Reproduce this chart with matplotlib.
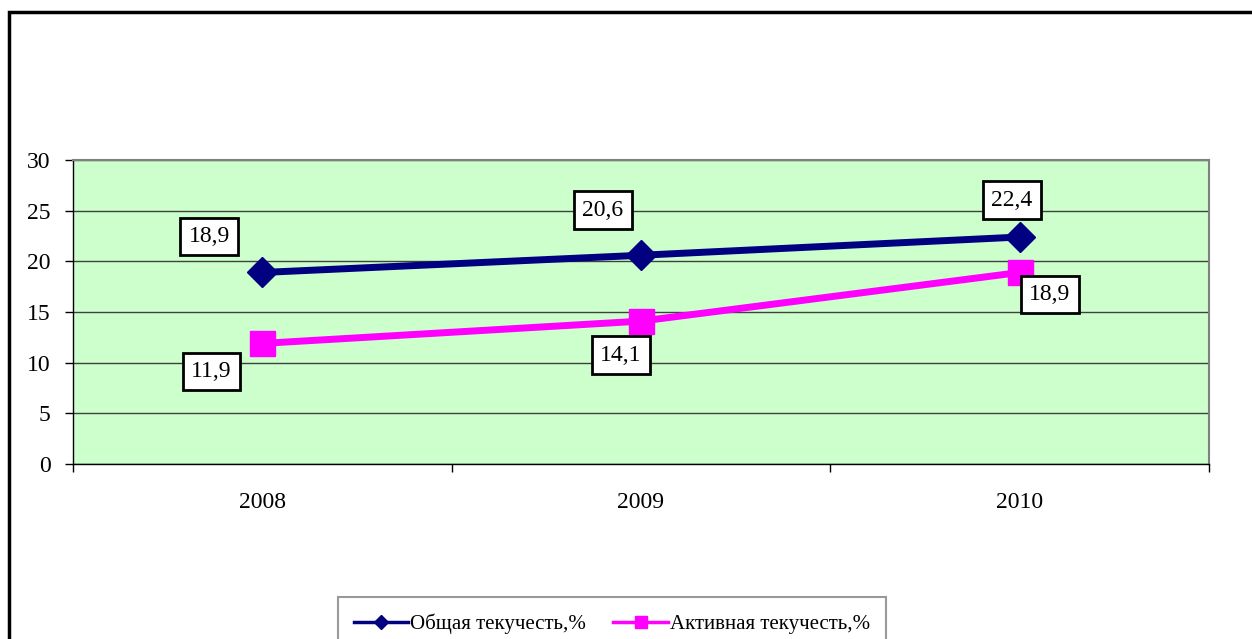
import matplotlib.pyplot as plt
import numpy as np
from matplotlib.patches import Rectangle

plt.rcParams['font.family'] = ['Liberation Serif', 'DejaVu Serif']

years = ['2008', '2009', '2010']
total = [18.9, 20.6, 22.4]
active = [11.9, 14.1, 18.9]
total_name = 'Общая текучесть,%'
active_name = 'Активная текучесть,%'

fig = plt.figure(figsize=(12.52, 6.39), dpi=100)
ax = fig.add_axes([73/1252, 1-464/639, 1136/1252, 304/639])
ax.set_facecolor('#CCFFCC')

x = np.arange(len(years))
ax.plot(x, total, color='#000080', lw=5, marker='D', ms=15, label=total_name, zorder=3)
ax.plot(x, active, color='#FF00FF', lw=5, marker='s', ms=18, label=active_name, zorder=3)

# data labels
def lab(v):
    return ('%.1f' % v).replace('.', ',')

box = dict(boxstyle='square,pad=0.35', fc='white', ec='black', lw=2)
off_total = [(-53, 36), (-38, 45), (-8, 37)]
off_active = [(-51, -28), (-20, -34), (30, -22)]
for i in range(len(years)):
    ax.annotate(lab(total[i]), (x[i], total[i]), xytext=off_total[i], textcoords='offset pixels',
                ha='center', va='center', fontsize=17, bbox=box, zorder=4)
    ax.annotate(lab(active[i]), (x[i], active[i]), xytext=off_active[i], textcoords='offset pixels',
                ha='center', va='center', fontsize=17, bbox=box, zorder=4)

ax.set_xlim(-0.5, 2.5)
ax.set_ylim(0, 30)
ax.set_yticks(range(0, 31, 5))
ax.set_xticks(x)
ax.set_xticklabels(years)
ax.set_xticks([-0.5, 0.5, 1.5, 2.5], minor=True)
ax.tick_params(axis='x', which='major', length=0, pad=20, labelsize=17)
ax.tick_params(axis='x', which='minor', length=6, direction='out', width=1)
ax.tick_params(axis='y', length=6, direction='out', width=1, pad=10, labelsize=17)
ax.grid(axis='y', color='#404040', lw=1)
ax.set_axisbelow(True)
for s in ['top', 'right']:
    ax.spines[s].set_color('#808080')
    ax.spines[s].set_linewidth(1.5)
for s in ['left', 'bottom']:
    ax.spines[s].set_color('black')
    ax.spines[s].set_linewidth(1)

leg = fig.legend(loc='upper center', bbox_to_anchor=(612/1252, 1-597/639), ncol=2,
                 fontsize=15, frameon=True, fancybox=False, edgecolor='#808080',
                 handlelength=2.6, markerscale=0.5, borderpad=0.8, borderaxespad=0,
                 columnspacing=1.3, handletextpad=0.1)
leg.get_frame().set_linewidth(1.5)
for h in leg.legend_handles:
    h.set_linewidth(2.5)

fig.patches.append(Rectangle((9/1252, -0.2), 1.2, 1.2 - 12/639, transform=fig.transFigure,
                             fill=False, lw=2.5, ec='black', clip_on=False))

fig.savefig('out.png', dpi=100)
